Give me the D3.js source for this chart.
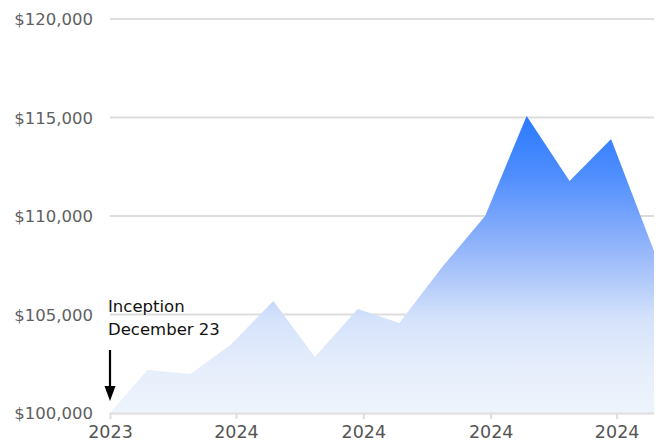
<!DOCTYPE html>
<html>
<head>
<meta charset="utf-8">
<script src="https://cdn.jsdelivr.net/npm/d3@7"></script>
<style>
  html, body { margin: 0; padding: 0; background: #fff; }
  svg { display: block; font-family: "DejaVu Sans", sans-serif; }
</style>
</head>
<body>
<svg id="chart" width="660" height="446"></svg>
<script>
const dates = ["2023-12-23","2024-01-19","2024-02-19","2024-03-19","2024-04-19","2024-05-19","2024-06-19",
               "2024-07-19","2024-08-19","2024-09-19","2024-10-19","2024-11-19","2024-12-19","2025-01-19"];
const values = [100000,102180,101980,103450,105690,102840,105280,104570,107410,110000,115080,111780,113910,108220];
const xTickDates = ["2023-12-23","2024-03-23","2024-06-23","2024-09-23","2024-12-23"];
const xTickLabels = ["2023","2024","2024","2024","2024"];
const yTicks = [100000,105000,110000,115000,120000];

const parse = d3.timeParse("%Y-%m-%d");
const data = dates.map((d, i) => ({ date: parse(d), value: values[i] }));

const svg = d3.select("#chart");
const M = { left: 110, right: 654, top: 19, bottom: 413 };

const x = d3.scaleTime().domain(d3.extent(data, d => d.date)).range([M.left, M.right]);
const y = d3.scaleLinear().domain([100000, 120000]).range([M.bottom, M.top]);

// gradient
const defs = svg.append("defs");
const grad = defs.append("linearGradient").attr("id", "areaGrad")
  .attr("gradientUnits", "userSpaceOnUse")
  .attr("x1", 0).attr("x2", 0)
  .attr("y1", y(d3.max(values))).attr("y2", M.bottom);
[[0, "#2a7aff"], [0.2, "#4f8efd"], [0.45, "#95b6fa"], [0.68, "#d4e2fb"], [0.85, "#e6eefb"], [1, "#eef4fc"]]
  .forEach(([o, c]) => grad.append("stop").attr("offset", o).attr("stop-color", c));

// grid
svg.append("g").selectAll("line").data(yTicks).join("line")
  .attr("x1", M.left).attr("x2", M.right)
  .attr("y1", d => y(d)).attr("y2", d => y(d))
  .attr("stroke", "#dddddd").attr("stroke-width", 2);

// y labels
svg.append("g").selectAll("text").data(yTicks).join("text")
  .attr("x", 93).attr("y", d => y(d) + 6)
  .attr("text-anchor", "end")
  .attr("font-size", 16.5)
  .attr("fill", "#5f5f5f")
  .text(d => "$" + d3.format(",")(d));

// area
const area = d3.area().x(d => x(d.date)).y0(M.bottom).y1(d => y(d.value)).curve(d3.curveLinear);
svg.append("path").datum(data).attr("d", area).attr("fill", "url(#areaGrad)");

// x axis
const xAxis = d3.axisBottom(x)
  .tickValues(xTickDates.map(parse))
  .tickFormat((d, i) => xTickLabels[i])
  .tickSize(6).tickSizeOuter(0);
const gx = svg.append("g").attr("transform", `translate(0,${M.bottom})`).call(xAxis);
gx.select(".domain").attr("stroke", "#dddddd").attr("stroke-width", 2);
gx.selectAll(".tick line").attr("stroke", "#dddddd").attr("stroke-width", 2);
gx.selectAll(".tick text").attr("font-size", 17.5).attr("fill", "#555").attr("dy", "0.9em")
  .attr("font-family", "DejaVu Sans, sans-serif");

// annotation
const x0 = x(data[0].date);
svg.append("text").attr("x", 108).attr("y", 312).attr("font-size", 16.5).attr("fill", "#111").text("Inception");
svg.append("text").attr("x", 108).attr("y", 335).attr("font-size", 16.5).attr("fill", "#111").text("December 23");
svg.append("line").attr("x1", x0).attr("x2", x0)
  .attr("y1", 350).attr("y2", 390).attr("stroke", "#000").attr("stroke-width", 2.2);
svg.append("path")
  .attr("d", d3.line()([[x0 - 5.5, 386], [x0 + 5.5, 386], [x0, 401]]) + "Z")
  .attr("fill", "#000");
</script>
</body>
</html>
